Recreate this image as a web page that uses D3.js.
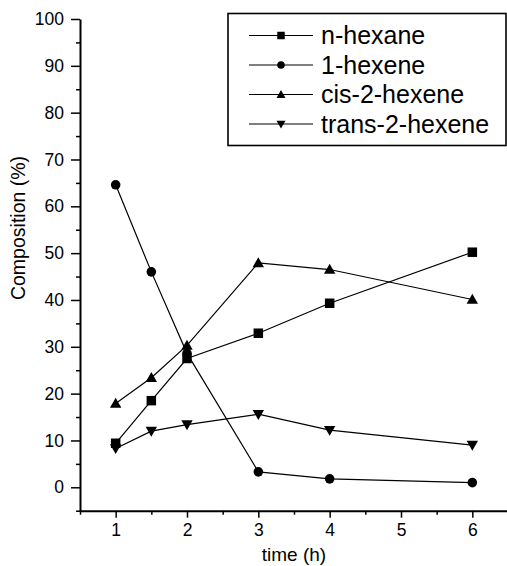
<html>
<head>
  <script src="https://d3js.org/d3.v7.min.js"></script>
  <style>
    body { margin: 0; background: #fff; }
    text { font-family: "Liberation Sans", Arial, sans-serif; fill: #000; }
    .axis path { stroke: #000; stroke-width: 2; }
    .axis line { stroke: #000; stroke-width: 1.5; }
    .axis text { font-size: 17.5px; }
  </style>
</head>
<body>
<div id="chart"></div>
<script>
// data
var times = [1, 1.5, 2, 3, 4, 6];
var nHexane = [9.4, 18.5, 27.5, 32.9, 39.3, 50.2];
var hexene1 = [64.6, 46.0, 28.6, 3.3, 1.8, 1.0];
var cisHexene = [17.9, 23.4, 30.3, 47.9, 46.5, 40.1];
var transHexene = [8.3, 12.0, 13.4, 15.6, 12.2, 9.0];
var seriesNames = ["n-hexane", "1-hexene", "cis-2-hexene", "trans-2-hexene"];
var xTicks = [1, 2, 3, 4, 5, 6];
var xMinor = [0.5, 1.5, 2.5, 3.5, 4.5, 5.5, 6.5];
var yTicks = [0, 10, 20, 30, 40, 50, 60, 70, 80, 90, 100];
var yMinor = [-5, 5, 15, 25, 35, 45, 55, 65, 75, 85, 95];

var series = [
  { name: seriesNames[0], values: nHexane, shape: d3.symbolSquare },
  { name: seriesNames[1], values: hexene1, shape: d3.symbolCircle },
  { name: seriesNames[2], values: cisHexene, shape: "up" },
  { name: seriesNames[3], values: transHexene, shape: "down" }
];

var W = 507, H = 566;
var svg = d3.select("#chart").append("svg")
  .attr("width", W).attr("height", H);

var x = d3.scaleLinear().domain([0.5, 6.5]).range([80, 508]);
var y = d3.scaleLinear().domain([-5, 100]).range([510.7, 19]);

// marker path for a series, size in px
function marker(shape, s) {
  if (shape === "up") {
    return "M0," + (-s * 0.6) + "L" + (s * 0.6) + "," + (s * 0.45) + "L" + (-s * 0.6) + "," + (s * 0.45) + "Z";
  }
  if (shape === "down") {
    return "M0," + (s * 0.6) + "L" + (s * 0.6) + "," + (-s * 0.45) + "L" + (-s * 0.6) + "," + (-s * 0.45) + "Z";
  }
  return d3.symbol().type(shape).size(s * s * (shape === d3.symbolCircle ? 0.8 : 1))();
}

// minor ticks first
svg.append("g").attr("class", "axis")
  .attr("transform", "translate(80,0)")
  .call(d3.axisLeft(y).tickValues(yMinor).tickSize(4).tickFormat(""))
  .select(".domain").remove();
svg.append("g").attr("class", "axis")
  .attr("transform", "translate(0,510.7)")
  .call(d3.axisBottom(x).tickValues(xMinor).tickSize(4).tickFormat(""))
  .select(".domain").remove();

// y axis
svg.append("g").attr("class", "axis")
  .attr("transform", "translate(80,0)")
  .call(d3.axisLeft(y).tickValues(yTicks).tickSize(9).tickSizeOuter(0).tickPadding(7));

// x axis
svg.append("g").attr("class", "axis")
  .attr("transform", "translate(0,510.7)")
  .call(d3.axisBottom(x).tickValues(xTicks).tickFormat(d3.format("d"))
    .tickSize(7).tickSizeOuter(0).tickPadding(6));

// axis titles
svg.append("text")
  .attr("x", 294).attr("y", 561)
  .attr("text-anchor", "middle")
  .style("font-size", "19px")
  .text("time (h)");

svg.append("text")
  .attr("transform", "translate(25,228) rotate(-90)")
  .attr("text-anchor", "middle")
  .style("font-size", "19.5px")
  .text("Composition (%)");

// lines and markers
var line = d3.line()
  .x(function (d, i) { return x(times[i]); })
  .y(function (d) { return y(d); });

series.forEach(function (s) {
  svg.append("path")
    .attr("d", line(s.values))
    .attr("fill", "none")
    .attr("stroke", "#000")
    .attr("stroke-width", 1.2);
  svg.append("g").selectAll("path")
    .data(s.values)
    .enter().append("path")
    .attr("transform", function (d, i) { return "translate(" + x(times[i]) + "," + y(d) + ")"; })
    .attr("d", marker(s.shape, 9.5))
    .attr("fill", "#000");
});

// legend
var lg = svg.append("g");
lg.append("rect")
  .attr("x", 228).attr("y", 13.5)
  .attr("width", 278).attr("height", 132)
  .attr("fill", "#fff")
  .attr("stroke", "#000")
  .attr("stroke-width", 1.6);

series.forEach(function (s, i) {
  var ly = 35.5 + i * 29.5;
  lg.append("line")
    .attr("x1", 249).attr("x2", 313)
    .attr("y1", ly).attr("y2", ly)
    .attr("stroke", "#000").attr("stroke-width", 1.2);
  lg.append("path")
    .attr("transform", "translate(281," + ly + ")")
    .attr("d", marker(s.shape, 7.5))
    .attr("fill", "#000");
  lg.append("text")
    .attr("x", 321).attr("y", ly + 8.5)
    .style("font-size", "25px")
    .text(s.name);
});
</script>
</body>
</html>
